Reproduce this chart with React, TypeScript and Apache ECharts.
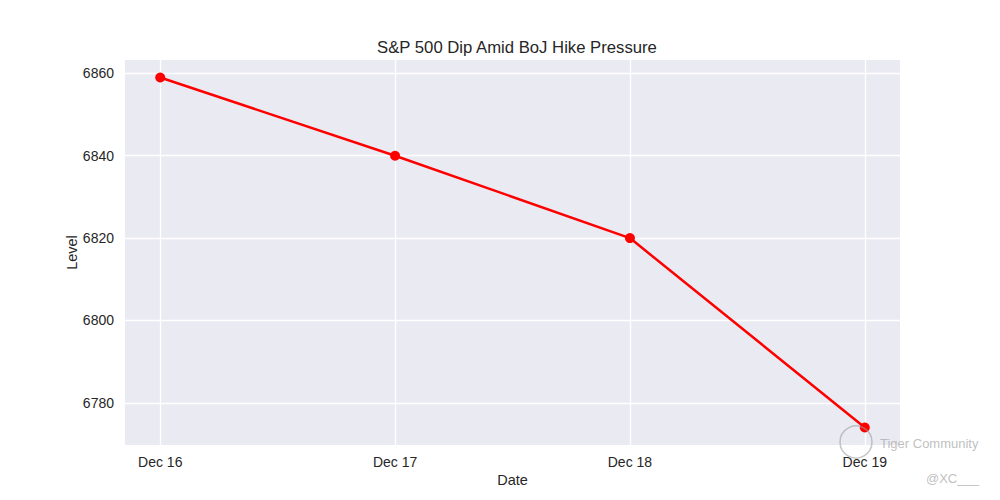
import React, { useEffect, useRef } from "react";
import * as echarts from "echarts";

const categories = ["Dec 16", "Dec 17", "Dec 18", "Dec 19"];
const levels = [6859, 6840, 6820, 6774];
const yTicks = [6780, 6800, 6820, 6840, 6860];
const xTicks = [0, 1, 2, 3];

const FONT = "Liberation Sans, Arial, sans-serif";

export default function App() {
  const ref = useRef<HTMLDivElement>(null);
  useEffect(() => {
    if (!ref.current) return;
    const chart = echarts.init(ref.current, undefined, { renderer: "svg" });
    const n = categories.length;
    const yMin = Math.min(...levels);
    const yMax = Math.max(...levels);
    const yPad = (yMax - yMin) * 0.05;
    const xPad = (n - 1) * 0.05;
    chart.setOption({
      animation: false,
      backgroundColor: "#ffffff",
      title: {
        text: "S&P 500 Dip Amid BoJ Hike Pressure",
        left: 512,
        textAlign: "center",
        top: 34,
        textStyle: { fontFamily: FONT, fontSize: 16.7, fontWeight: "normal", color: "#262626" },
      },
      grid: {
        left: 125,
        right: 100,
        top: 60,
        bottom: 55,
        show: true,
        backgroundColor: "#EAEAF2",
        borderWidth: 0,
      },
      xAxis: {
        type: "value",
        min: -xPad,
        max: n - 1 + xPad,
        name: "Date",
        nameLocation: "middle",
        nameGap: 27,
        nameMoveOverlap: false,
        nameTextStyle: { fontFamily: FONT, fontSize: 14.5, color: "#262626" },
        axisLine: { show: false },
        axisTick: { show: false, customValues: xTicks },
        axisLabel: {
          customValues: xTicks,
          formatter: (v: number) => categories[Math.round(v)] ?? "",
          fontFamily: FONT,
          fontSize: 14,
          color: "#262626",
          margin: 10,
        },
        splitLine: { show: true, lineStyle: { color: "#ffffff", width: 1.3 } },
      },
      yAxis: {
        type: "value",
        min: yMin - yPad,
        max: yMax + yPad,
        name: "Level",
        nameLocation: "middle",
        nameGap: 46,
        nameMoveOverlap: false,
        nameTextStyle: { fontFamily: FONT, fontSize: 14.5, color: "#262626" },
        axisLine: { show: false },
        axisTick: { show: false, customValues: yTicks },
        axisLabel: {
          customValues: yTicks,
          formatter: (v: number) => String(v),
          fontFamily: FONT,
          fontSize: 14,
          color: "#262626",
          margin: 11,
        },
        splitLine: { show: true, lineStyle: { color: "#ffffff", width: 1.3 } },
      },
      graphic: [
        {
          type: "circle",
          shape: { cx: 856, cy: 442, r: 16 },
          style: { fill: "none", stroke: "rgba(160,160,160,0.6)", lineWidth: 1.5 },
          z: 100,
        },
        {
          type: "text",
          x: 880,
          y: 443,
          style: {
            text: "Tiger Community",
            fontFamily: FONT,
            fontSize: 13,
            fill: "rgba(170,170,170,0.75)",
            verticalAlign: "middle",
          },
          z: 100,
        },
        {
          type: "text",
          x: 926,
          y: 478,
          style: {
            text: "@XC___",
            fontFamily: FONT,
            fontSize: 13,
            fill: "rgba(170,170,170,0.75)",
            verticalAlign: "middle",
          },
          z: 100,
        },
      ],
      series: [
        {
          type: "line",
          data: levels.map((v, i) => [i, v]),
          color: "#ff0000",
          lineStyle: { color: "#ff0000", width: 2.5 },
          itemStyle: { color: "#ff0000" },
          symbol: "circle",
          symbolSize: 10,
          showSymbol: true,
        },
      ],
    });
    return () => chart.dispose();
  }, []);
  return (
    <div
      ref={ref}
      style={{ position: "fixed", left: 0, top: 0, width: 1000, height: 500 }}
    />
  );
}
